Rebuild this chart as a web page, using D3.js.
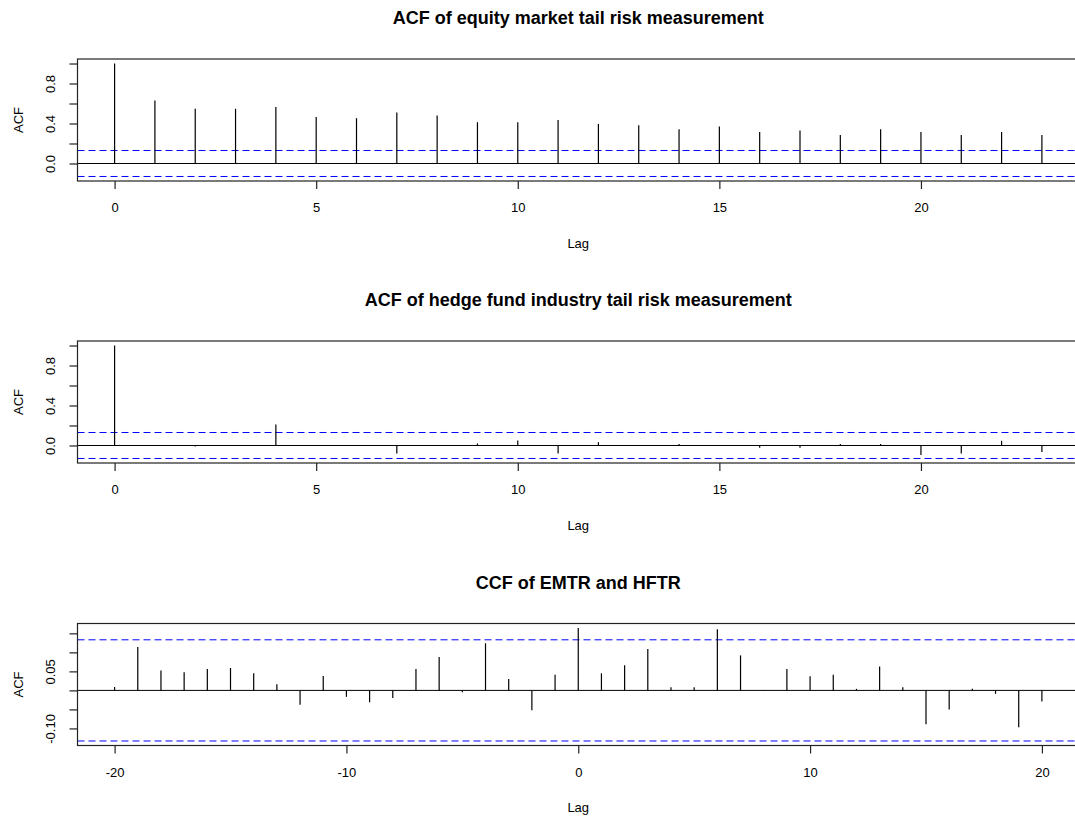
<!DOCTYPE html>
<html>
<head>
<meta charset="utf-8">
<script src="https://cdn.jsdelivr.net/npm/d3@7"></script>
<style>
  body { margin: 0; background: #fff; }
  text { font-family: "Liberation Sans", Arial, sans-serif; }
</style>
</head>
<body>
<div class="d3-content"></div>
<script>
// ---- data ----
const acfLags = [0, 1, 2, 3, 4, 5, 6, 7, 8, 9, 10, 11, 12, 13, 14, 15, 16, 17, 18, 19, 20, 21, 22, 23];

const emtrAcf = [1.000, 0.631, 0.547, 0.547, 0.564, 0.466, 0.453, 0.510, 0.480, 0.413, 0.413, 0.436,
                 0.396, 0.383, 0.342, 0.369, 0.315, 0.329, 0.285, 0.342, 0.315, 0.285, 0.315, 0.285];

const hftrAcf = [1.000, 0.002, -0.010, 0.001, 0.211, 0.000, 0.001, -0.080, 0.000, 0.020, 0.050, -0.080,
                 0.033, 0.000, 0.015, 0.000, -0.023, -0.023, 0.015, 0.015, -0.094, -0.080, 0.047, -0.064];

const ccfLags = [-20, -19, -18, -17, -16, -15, -14, -13, -12, -11, -10, -9, -8, -7, -6, -5, -4, -3, -2, -1,
                 0, 1, 2, 3, 4, 5, 6, 7, 8, 9, 10, 11, 12, 13, 14, 15, 16, 17, 18, 19, 20];

const ccfValues = [0.009, 0.114, 0.052, 0.048, 0.056, 0.059, 0.045, 0.016, -0.038, 0.038, -0.017, -0.031,
                   -0.020, 0.056, 0.088, -0.005, 0.124, 0.030, -0.052, 0.041,
                   0.164, 0.045, 0.066, 0.109, 0.008, 0.008, 0.161, 0.092, 0.001, 0.056, 0.037, 0.041,
                   0.004, 0.063, 0.008, -0.089, -0.050, 0.004, -0.009, -0.097, -0.029];

const acfCi = 0.13;
const ccfCi = 0.133;

const acfXTicks = [0, 5, 10, 15, 20];
const ccfXTicks = [-20, -10, 0, 10, 20];
const acfYTicks = [0, 0.2, 0.4, 0.6, 0.8, 1.0];
const acfYLabels = [0, 0.4, 0.8];
const ccfYTicks = [-0.10, -0.05, 0, 0.05, 0.10, 0.15];
const ccfYLabels = [-0.10, 0.05];

const titles = ['ACF of equity market tail risk measurement',
                'ACF of hedge fund industry tail risk measurement',
                'CCF of EMTR and HFTR'];

// ---- layout ----
const SVG_WIDTH = 1075;
const SVG_HEIGHT = 816;
const PLOT_LEFT = 77.5;
const PLOT_RIGHT = 1079;
const PANEL_H = 122;
const PANEL_TOPS = [59, 341, 623.5];

const svg = d3.select('.d3-content')
  .append('svg')
  .attr('width', SVG_WIDTH)
  .attr('height', SVG_HEIGHT);

// R style 4% expansion of a range
function expand(lo, hi) {
  const pad = (hi - lo) * 0.04;
  return [lo - pad, hi + pad];
}

// plain hyphen for negatives, like base R graphics
const hyphen = f => d => f(d).replace('\u2212', '-');

function drawPanel(opts) {
  const top = opts.top;
  const x = d3.scaleLinear()
    .domain(expand(d3.min(opts.lags), d3.max(opts.lags)))
    .range([PLOT_LEFT, PLOT_RIGHT]);

  const yLo = Math.min(d3.min(opts.values), -opts.ci);
  const yHi = Math.max(d3.max(opts.values), opts.ci);
  const y = d3.scaleLinear()
    .domain(expand(yLo, yHi))
    .range([top + PANEL_H, top]);

  const g = svg.append('g');

  // title
  svg.append('text')
    .text(opts.title)
    .attr('x', (PLOT_LEFT + PLOT_RIGHT) / 2)
    .attr('y', top - 41)
    .attr('dy', '0.35em')
    .attr('text-anchor', 'middle')
    .attr('font-size', 18)
    .attr('font-weight', 'bold')
    .attr('fill', '#000');

  // zero line
  g.append('line')
    .attr('x1', PLOT_LEFT).attr('x2', PLOT_RIGHT)
    .attr('y1', y(0)).attr('y2', y(0))
    .attr('stroke', '#000');

  // confidence bands
  [opts.ci, -opts.ci].forEach(c => {
    g.append('line')
      .attr('x1', PLOT_LEFT).attr('x2', PLOT_RIGHT)
      .attr('y1', y(c)).attr('y2', y(c))
      .attr('stroke', '#0000ff')
      .attr('stroke-dasharray', '7,4');
  });

  // spikes
  g.selectAll('line.spike')
    .data(opts.lags.map((l, i) => ({ lag: l, v: opts.values[i] })))
    .enter()
    .append('line')
    .attr('class', 'spike')
    .attr('x1', d => x(d.lag)).attr('x2', d => x(d.lag))
    .attr('y1', y(0)).attr('y2', d => y(d.v))
    .attr('stroke', '#000')
    .attr('stroke-width', 1.2);

  // box
  g.append('rect')
    .attr('x', PLOT_LEFT).attr('y', top)
    .attr('width', PLOT_RIGHT - PLOT_LEFT).attr('height', PANEL_H)
    .attr('fill', 'none')
    .attr('stroke', '#222')
    .attr('stroke-width', 1.2);

  // x axis
  const xa = svg.append('g')
    .attr('transform', `translate(0, ${top + PANEL_H})`)
    .call(d3.axisBottom(x).tickValues(opts.xTicks).tickSize(8).tickPadding(14)
      .tickFormat(hyphen(d3.format('d'))));
  xa.select('.domain').remove();
  xa.selectAll('text').attr('font-size', 13).attr('fill', '#000').attr('font-family', null);
  xa.selectAll('line').attr('stroke', '#222').attr('stroke-width', 1.2);

  // y axis
  const fmt = hyphen(opts.yFormat);
  const ya = svg.append('g')
    .attr('transform', `translate(${PLOT_LEFT}, 0)`)
    .call(d3.axisLeft(y).tickValues(opts.yTicks).tickSize(8)
      .tickFormat(d => opts.yLabels.some(v => Math.abs(v - d) < 1e-9) ? fmt(d) : ''));
  ya.select('.domain').remove();
  ya.selectAll('line').attr('stroke', '#222').attr('stroke-width', 1.2);
  ya.selectAll('text')
    .attr('font-size', 13)
    .attr('fill', '#000')
    .attr('font-family', null)
    .attr('text-anchor', 'middle')
    .attr('transform', 'rotate(-90)')
    .attr('x', 0)
    .attr('y', -27.5)
    .attr('dy', '0.35em');

  // axis titles
  svg.append('text')
    .text('Lag')
    .attr('x', (PLOT_LEFT + PLOT_RIGHT) / 2)
    .attr('y', top + PANEL_H + 62)
    .attr('dy', '0.35em')
    .attr('text-anchor', 'middle')
    .attr('font-size', 13);

  svg.append('text')
    .text('ACF')
    .attr('transform', `translate(18.5, ${top + PANEL_H / 2}) rotate(-90)`)
    .attr('dy', '0.35em')
    .attr('text-anchor', 'middle')
    .attr('font-size', 13);
}

drawPanel({ top: PANEL_TOPS[0], lags: acfLags, values: emtrAcf, ci: acfCi, title: titles[0],
            xTicks: acfXTicks, yTicks: acfYTicks, yLabels: acfYLabels, yFormat: d3.format('.1f') });
drawPanel({ top: PANEL_TOPS[1], lags: acfLags, values: hftrAcf, ci: acfCi, title: titles[1],
            xTicks: acfXTicks, yTicks: acfYTicks, yLabels: acfYLabels, yFormat: d3.format('.1f') });
drawPanel({ top: PANEL_TOPS[2], lags: ccfLags, values: ccfValues, ci: ccfCi, title: titles[2],
            xTicks: ccfXTicks, yTicks: ccfYTicks, yLabels: ccfYLabels, yFormat: d3.format('.2f') });
</script>
</body>
</html>
